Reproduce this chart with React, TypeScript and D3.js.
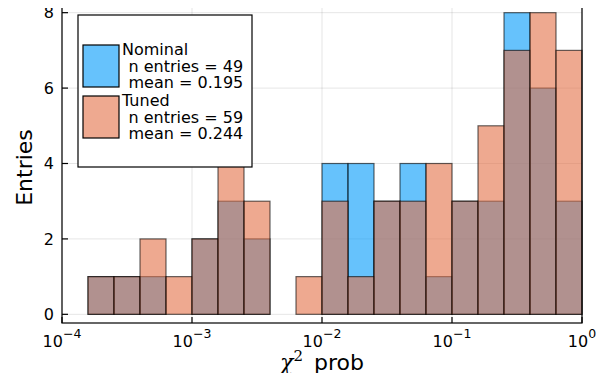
import React from 'react'
import * as d3 from 'd3'

// bin edges as log10 exponents (20 bins from 1e-4 to 1)
const binExponents = [-4, -3.8, -3.6, -3.4, -3.2, -3, -2.8, -2.6, -2.4, -2.2, -2, -1.8, -1.6, -1.4, -1.2, -1, -0.8, -0.6, -0.4, -0.2, 0]
const nominalCounts = [0, 1, 1, 1, 0, 2, 3, 2, 0, 0, 4, 4, 3, 4, 1, 3, 3, 8, 6, 3]
const tunedCounts = [0, 1, 1, 2, 1, 2, 4, 3, 0, 1, 3, 1, 3, 3, 4, 3, 5, 7, 8, 7]
const xTickExponents = [-4, -3, -2, -1, 0]
const yTicks = [0, 2, 4, 6, 8]

const series = [
  { name: 'Nominal', counts: nominalCounts, color: '#009afa', lines: ['n entries = 49', 'mean = 0.195'] },
  { name: 'Tuned', counts: tunedCounts, color: '#e26f46', lines: ['n entries = 59', 'mean = 0.244'] },
]

const W = 608
const H = 381
const margin = { left: 62, right: 26, top: 4, bottom: 58 }
const font = 'DejaVu Sans, sans-serif'

export default function App() {
  const x = d3.scaleLog().domain([1e-4, 1]).range([margin.left, W - margin.right])
  const y = d3.scaleLinear().domain([-0.23, 8.23]).range([H - margin.bottom, margin.top])
  const x0 = margin.left
  const x1 = W - margin.right
  const yTop = margin.top
  const yBot = H - margin.bottom

  const bins = d3.range(binExponents.length - 1).map(i => ({
    lo: Math.pow(10, binExponents[i]),
    hi: Math.pow(10, binExponents[i + 1]),
  }))

  return (
    <div style={{ margin: -8 }}>
      <svg width={W} height={H} style={{ display: 'block', fontFamily: font }}>
        <rect width={W} height={H} fill="#fff" />
        {/* grid */}
        {xTickExponents.map(e => (
          <line key={'gx' + e} x1={x(Math.pow(10, e))} x2={x(Math.pow(10, e))} y1={yTop} y2={yBot}
            stroke="#000" strokeOpacity={0.1} strokeWidth={1} />
        ))}
        {yTicks.map(t => (
          <line key={'gy' + t} x1={x0} x2={x1} y1={y(t)} y2={y(t)} stroke="#000" strokeOpacity={0.1} strokeWidth={1} />
        ))}
        {/* bars */}
        {series.map(s => (
          <g key={s.name}>
            {bins.map((b, i) => {
              const h = s.counts[i]
              const top = y(h)
              return (
                <rect key={i} x={x(b.lo)} width={x(b.hi) - x(b.lo)} y={top} height={y(0) - top}
                  fill={s.color} fillOpacity={0.6} stroke="#000" strokeOpacity={0.6} strokeWidth={1.2} />
              )
            })}
          </g>
        ))}
        {/* frame */}
        <rect x={x0} y={yTop} width={x1 - x0} height={yBot - yTop} fill="none" stroke="#000" strokeWidth={1.2} />
        {xTickExponents.map(e => (
          <line key={'tx' + e} x1={x(Math.pow(10, e))} x2={x(Math.pow(10, e))} y1={yBot} y2={yBot - 6} stroke="#000" strokeWidth={1.2} />
        ))}
        {yTicks.map(t => (
          <line key={'ty' + t} x1={x0} x2={x0 + 6} y1={y(t)} y2={y(t)} stroke="#000" strokeWidth={1.2} />
        ))}
        {/* tick labels */}
        {xTickExponents.map(e => (
          <text key={'lx' + e} x={x(Math.pow(10, e))} y={346.5} textAnchor="middle" fontSize={16} fill="#000">
            10<tspan dy={-8.5} fontSize={12.5}>{e < 0 ? '\u2212' + Math.abs(e) : String(e)}</tspan>
          </text>
        ))}
        {yTicks.map(t => (
          <text key={'ly' + t} x={x0 - 8} y={y(t)} dy="0.36em" textAnchor="end" fontSize={16} fill="#000">{t}</text>
        ))}
        {/* axis labels */}
        <text x={(x0 + x1) / 2} y={370} textAnchor="middle" fontSize={22} fill="#000">
          <tspan fontFamily="DejaVu Serif, serif" fontStyle="italic">χ</tspan>
          <tspan dy={-9} fontSize={15} fontFamily="DejaVu Serif, serif">2</tspan>
          <tspan dy={9}>{'\u2002prob'}</tspan>
        </text>
        <text transform={`translate(31.5,${(yTop + yBot) / 2 + 4}) rotate(-90)`} textAnchor="middle" fontSize={22} fill="#000">Entries</text>
        {/* legend */}
        <rect x={78} y={15} width={174} height={152} fill="#fff" stroke="#000" strokeWidth={1.2} />
        {series.map((s, i) => {
          const top = 45 + i * 51
          return (
            <g key={'leg' + s.name}>
              <rect x={83} y={top} width={36} height={42} fill={s.color} fillOpacity={0.6} stroke="#000" strokeWidth={1.2} />
              <text x={122} y={top + 10} fontSize={16} fill="#000">{s.name}</text>
              {s.lines.map((l, j) => (
                <text key={j} x={128.5} y={top + 26.7 + j * 16.7} fontSize={16} fill="#000">{l}</text>
              ))}
            </g>
          )
        })}
      </svg>
    </div>
  )
}
